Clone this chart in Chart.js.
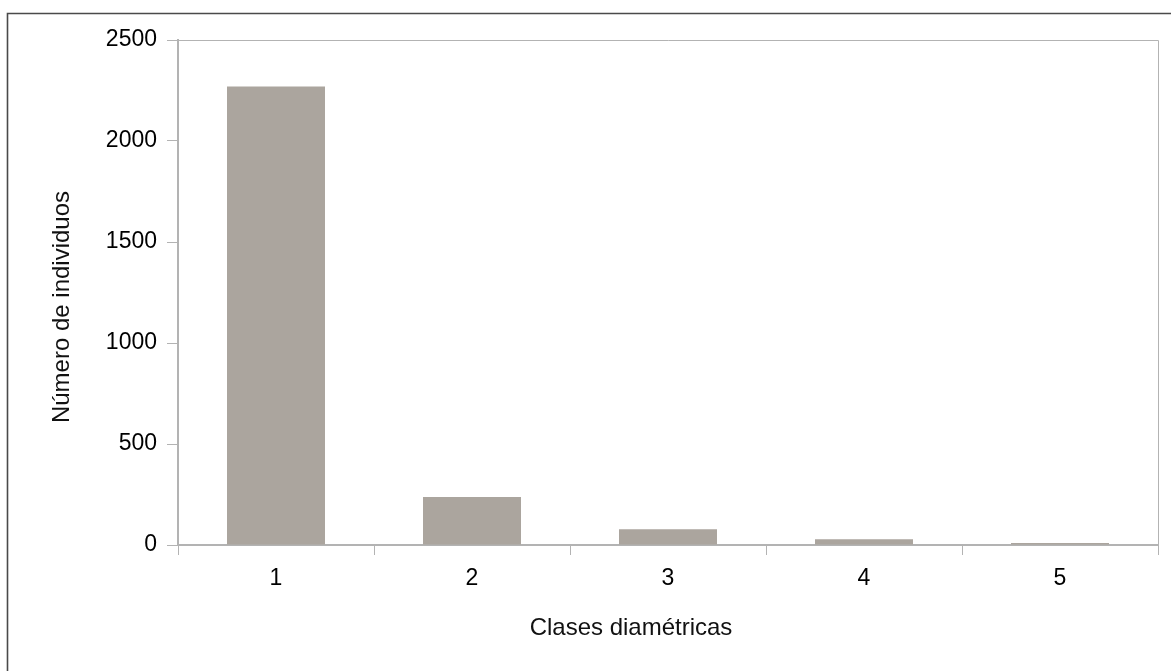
<!DOCTYPE html>
<html>
<head>
<meta charset="utf-8">
<script src="https://cdn.jsdelivr.net/npm/chart.js@4.4.1/dist/chart.umd.min.js"></script>
<style>
  html, body { margin: 0; padding: 0; background: #fff; }
  #wrap { width: 1171px; height: 671px; position: relative; }
</style>
</head>
<body>
<div id="wrap"><canvas id="c" width="1171" height="671"></canvas></div>
<script>
// Número de individuos por clase diamétrica
const categories = ['1', '2', '3', '4', '5'];
const individuos = [2270, 238, 78, 28, 10];
const yTicks = [0, 500, 1000, 1500, 2000, 2500];
const xTitle = 'Clases diamétricas';
const yTitle = 'Número de individuos';

const FONT = "'Liberation Sans', Arial, sans-serif";
const AXIS_GREY = '#b3b3b3';

// White page with the dark outer frame, the light box edges of the plot area,
// and the two axis titles (placed relative to the whole drawing, not the plot box)
const framePlugin = {
  id: 'frame',
  beforeDraw(chart) {
    const ctx = chart.ctx;
    ctx.save();
    ctx.fillStyle = '#fff';
    ctx.fillRect(0, 0, chart.width, chart.height);
    ctx.strokeStyle = '#4a4a4a';
    ctx.lineWidth = 1.6;
    ctx.beginPath();
    ctx.moveTo(7.5, chart.height + 2);
    ctx.lineTo(7.5, 13.5);
    ctx.lineTo(chart.width + 2, 13.5);
    ctx.stroke();
    ctx.restore();
  },
  afterDraw(chart) {
    const { ctx, chartArea: a } = chart;
    ctx.save();
    ctx.strokeStyle = AXIS_GREY;
    ctx.lineWidth = 1;
    ctx.beginPath();
    ctx.moveTo(a.left, Math.round(a.top) + 0.5);
    ctx.lineTo(Math.round(a.right) + 0.5, Math.round(a.top) + 0.5);
    ctx.lineTo(Math.round(a.right) + 0.5, a.bottom);
    ctx.stroke();

    ctx.fillStyle = '#111';
    ctx.font = '24px ' + FONT;
    ctx.textAlign = 'center';
    ctx.textBaseline = 'middle';
    ctx.fillText(xTitle, 631, 628);
    ctx.translate(62, 307);
    ctx.rotate(-Math.PI / 2);
    ctx.fillText(yTitle, 0, 0);
    ctx.restore();
  }
};

new Chart(document.getElementById('c'), {
  type: 'bar',
  data: {
    labels: categories,
    datasets: [{
      data: individuos,
      backgroundColor: '#aba59e',
      borderWidth: 0,
      barPercentage: 0.5,
      categoryPercentage: 1.0
    }]
  },
  options: {
    responsive: false,
    animation: false,
    layout: { padding: { top: 40, right: 13, left: 0, bottom: 0 } },
    plugins: { legend: { display: false }, tooltip: { enabled: false } },
    scales: {
      x: {
        offset: true,
        grid: { offset: true, drawOnChartArea: false, tickLength: 10, color: AXIS_GREY },
        border: { display: true, color: AXIS_GREY, width: 2 },
        ticks: { color: '#000', font: { family: FONT, size: 23 }, padding: 10 },
        afterFit(scale) { scale.height = 126; }
      },
      y: {
        min: 0, max: 2500,
        afterBuildTicks(scale) { scale.ticks = yTicks.map(v => ({ value: v })); },
        grid: { drawOnChartArea: false, tickLength: 11, color: AXIS_GREY },
        border: { display: true, color: AXIS_GREY, width: 2 },
        ticks: { color: '#000', font: { family: FONT, size: 23 }, padding: 10,
                 callback: (v) => String(v) },
        afterFit(scale) { scale.width = 178; }
      }
    }
  },
  plugins: [framePlugin]
});
</script>
</body>
</html>
